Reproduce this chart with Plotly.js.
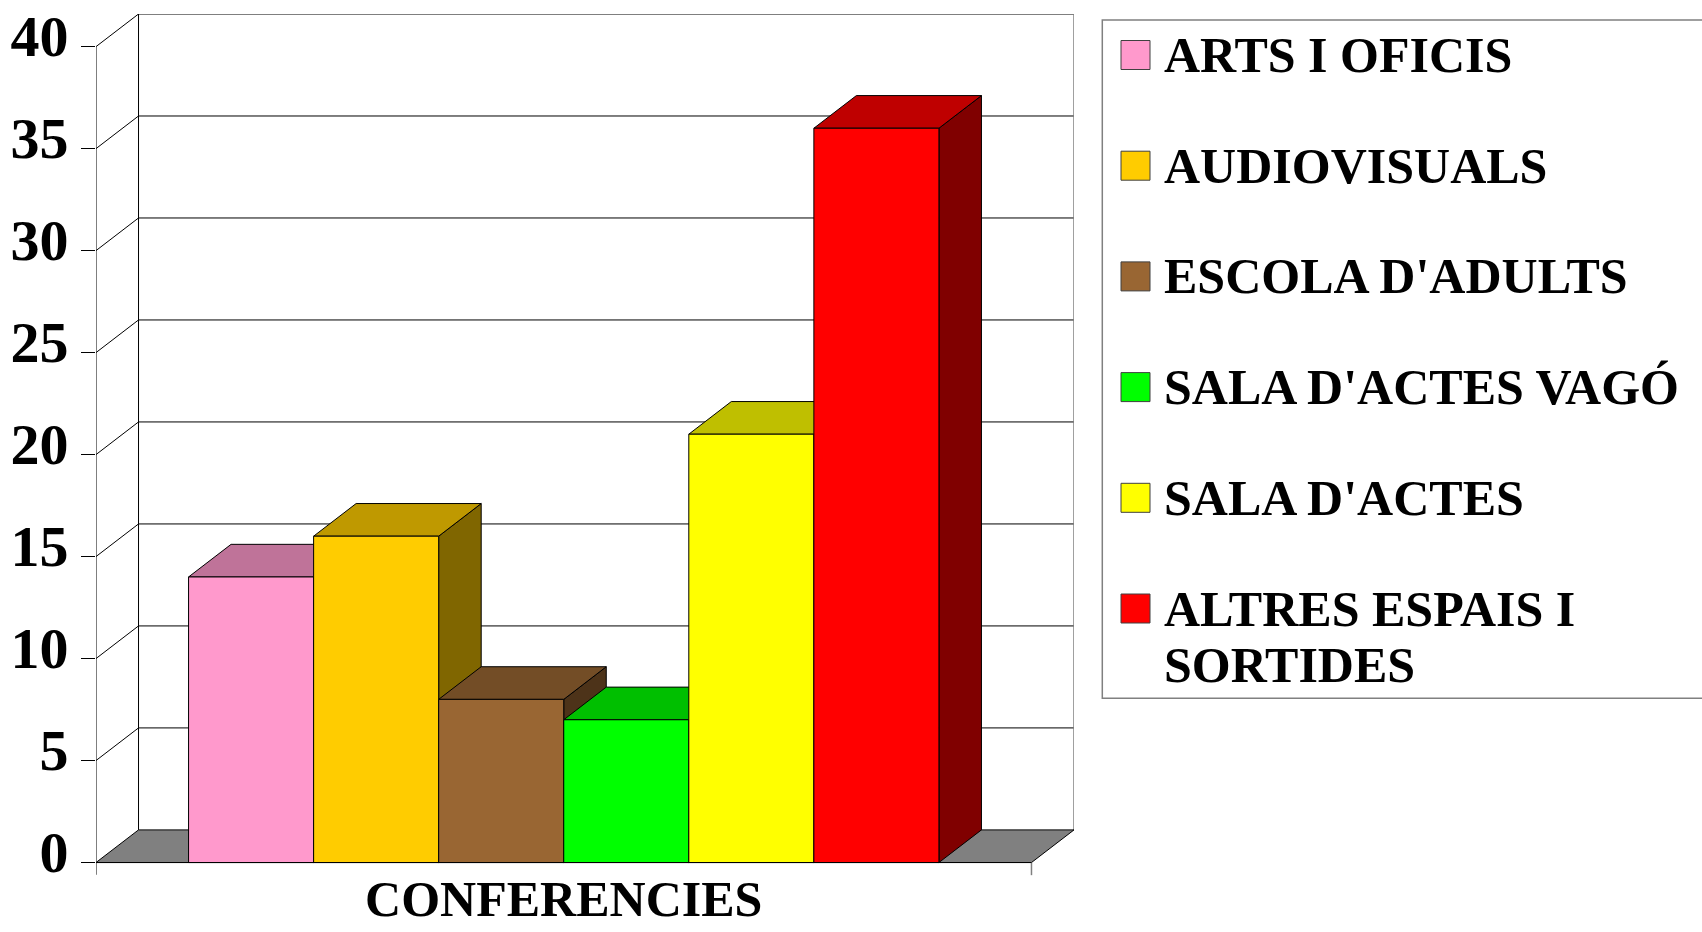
<!DOCTYPE html>
<html>
<head>
<meta charset="utf-8">
<script src="https://cdn.plot.ly/plotly-3.0.1.min.js"></script>
<style>html,body{margin:0;padding:0;background:#fff;}#chart{width:1702px;height:932px;}</style>
</head>
<body>
<div id="chart"></div>
<script>
// ---- data ----
const categories = ['CONFERENCIES'];
const seriesNames = ['ARTS I OFICIS', 'AUDIOVISUALS', "ESCOLA D'ADULTS", "SALA D'ACTES VAGÓ", "SALA D'ACTES", 'ALTRES ESPAIS I SORTIDES'];
const legendLabels = ['ARTS I OFICIS', 'AUDIOVISUALS', "ESCOLA D'ADULTS", "SALA D'ACTES VAGÓ", "SALA D'ACTES", 'ALTRES ESPAIS I<br>SORTIDES'];
const seriesValues = [14, 16, 8, 7, 21, 36];
const yTickVals = [0, 5, 10, 15, 20, 25, 30, 35, 40];
const yTickText = ['0', '5', '10', '15', '20', '25', '30', '35', '40'];

// ---- styles ----
const frontColors = ['#FF99CC', '#FFCC00', '#996633', '#00FF00', '#FFFF00', '#FF0000'];
const topColors   = ['#BF7399', '#BF9900', '#734D26', '#00BF00', '#BFBF00', '#BF0000'];
const sideColors  = ['#804C66', '#806600', '#4D3319', '#008000', '#808000', '#800000'];

// ---- geometry (in axis units) ----
const DX = 0.34, DY = 1.6;          // 3D depth offset
const XL = -0.74;                    // floor front-left
const XR = seriesValues.length + 0.74; // floor front-right
const YMAX = yTickVals[yTickVals.length - 1];

const M = {l: 96, r: 628, t: 14, b: 56};
const W = 1702, H = 932;
const PW = W - M.l - M.r, PH = H - M.t - M.b;
const px = v => (v - M.l) / PW;
const py = v => (H - M.b - v) / PH;

const traces = [];
function poly(xs, ys, fill, lineColor, lw) {
  traces.push({type: 'scatter', mode: 'lines', x: xs, y: ys, fill: fill ? 'toself' : 'none',
    fillcolor: fill || undefined, line: {color: lineColor, width: lw || 1}, hoverinfo: 'skip', showlegend: false});
}

// back wall grid lines and left wall diagonals
yTickVals.forEach(v => {
  if (v > 0) {
    poly([XL + DX, XR + DX], [v + DY, v + DY], null, '#000', 1);
    poly([XL, XL + DX], [v, v + DY], null, '#000', 1);
  }
});
// back wall left border and right border
poly([XL + DX, XL + DX], [DY, YMAX + DY], null, '#000', 1);
poly([XR + DX, XR + DX], [DY, YMAX + DY], null, '#808080', 1.5);
// floor
poly([XL, XR, XR + DX, XL + DX, XL], [0, 0, DY, DY, 0], '#808080', '#000', 1);
// front axis line and ticks at the bottom
poly([XL, XL], [-0.6, YMAX], null, '#000', 1);
poly([XR, XR], [0, -0.62], null, '#808080', 1.5);

// side faces
seriesValues.forEach((v, i) => {
  poly([i + 1, i + 1 + DX, i + 1 + DX, i + 1, i + 1], [0, DY, v + DY, v, 0], sideColors[i], '#000', 1);
});
// top faces
seriesValues.forEach((v, i) => {
  poly([i, i + 1, i + 1 + DX, i + DX, i], [v, v, v + DY, v + DY, v], topColors[i], '#000', 1);
});
// front faces
seriesValues.forEach((v, i) => {
  traces.push({type: 'scatter', mode: 'lines', name: seriesNames[i],
    x: [i, i + 1, i + 1, i, i], y: [0, 0, v, v, 0], fill: 'toself', fillcolor: frontColors[i],
    line: {color: '#000', width: 1}, hoverinfo: 'skip', showlegend: false});
});
// front bottom line
poly([XL, XR], [0, 0], null, '#000', 1);

// ---- manual legend ----
const shapes = [];
const annotations = [];
const LEG_FONT = {family: 'Liberation Serif, Times New Roman, serif', size: 50, color: '#000', weight: 'bold'};
shapes.push({type: 'rect', xref: 'paper', yref: 'paper', x0: px(1102.3), x1: px(1712), y0: py(698.3), y1: py(20),
  line: {color: '#808080', width: 1.5}, fillcolor: 'rgba(0,0,0,0)', layer: 'above'});
legendLabels.forEach((lab, i) => {
  const cy = 55 + i * 110.7;
  shapes.push({type: 'rect', xref: 'paper', yref: 'paper', x0: px(1121), x1: px(1150), y0: py(cy + 14.5), y1: py(cy - 14.5),
    line: {color: '#404040', width: 1}, fillcolor: frontColors[i], layer: 'above'});
  lab.split('<br>').forEach((line, k) => {
    annotations.push({xref: 'paper', yref: 'paper', x: px(1162), y: py(cy + k * 56), xanchor: 'left', yanchor: 'middle',
      text: line, showarrow: false, font: LEG_FONT});
  });
});

const layout = {
  width: W, height: H,
  margin: M,
  paper_bgcolor: '#fff', plot_bgcolor: '#fff',
  showlegend: false, hovermode: false,
  xaxis: {range: [XL, XR + DX], showgrid: false, zeroline: false, showline: false, ticks: '',
    tickmode: 'array', tickvals: [seriesValues.length / 2], ticktext: categories,
    ticklabelstandoff: -11,
    tickfont: {family: 'Liberation Serif, Times New Roman, serif', size: 50, color: '#000', weight: 'bold'},
    fixedrange: true},
  yaxis: {range: [-0.66, YMAX + DY], showgrid: false, zeroline: false, showline: false,
    ticks: 'outside', ticklen: 14, tickwidth: 1, tickcolor: '#000',
    tickmode: 'array', tickvals: yTickVals, ticktext: yTickText,
    ticklabelshift: -11, ticklabelstandoff: 1,
    tickfont: {family: 'Liberation Serif, Times New Roman, serif', size: 58, color: '#000', weight: 'bold'},
    fixedrange: true},
  shapes: shapes,
  annotations: annotations
};

Plotly.newPlot('chart', traces, layout, {displayModeBar: false, staticPlot: true});
</script>
</body>
</html>
